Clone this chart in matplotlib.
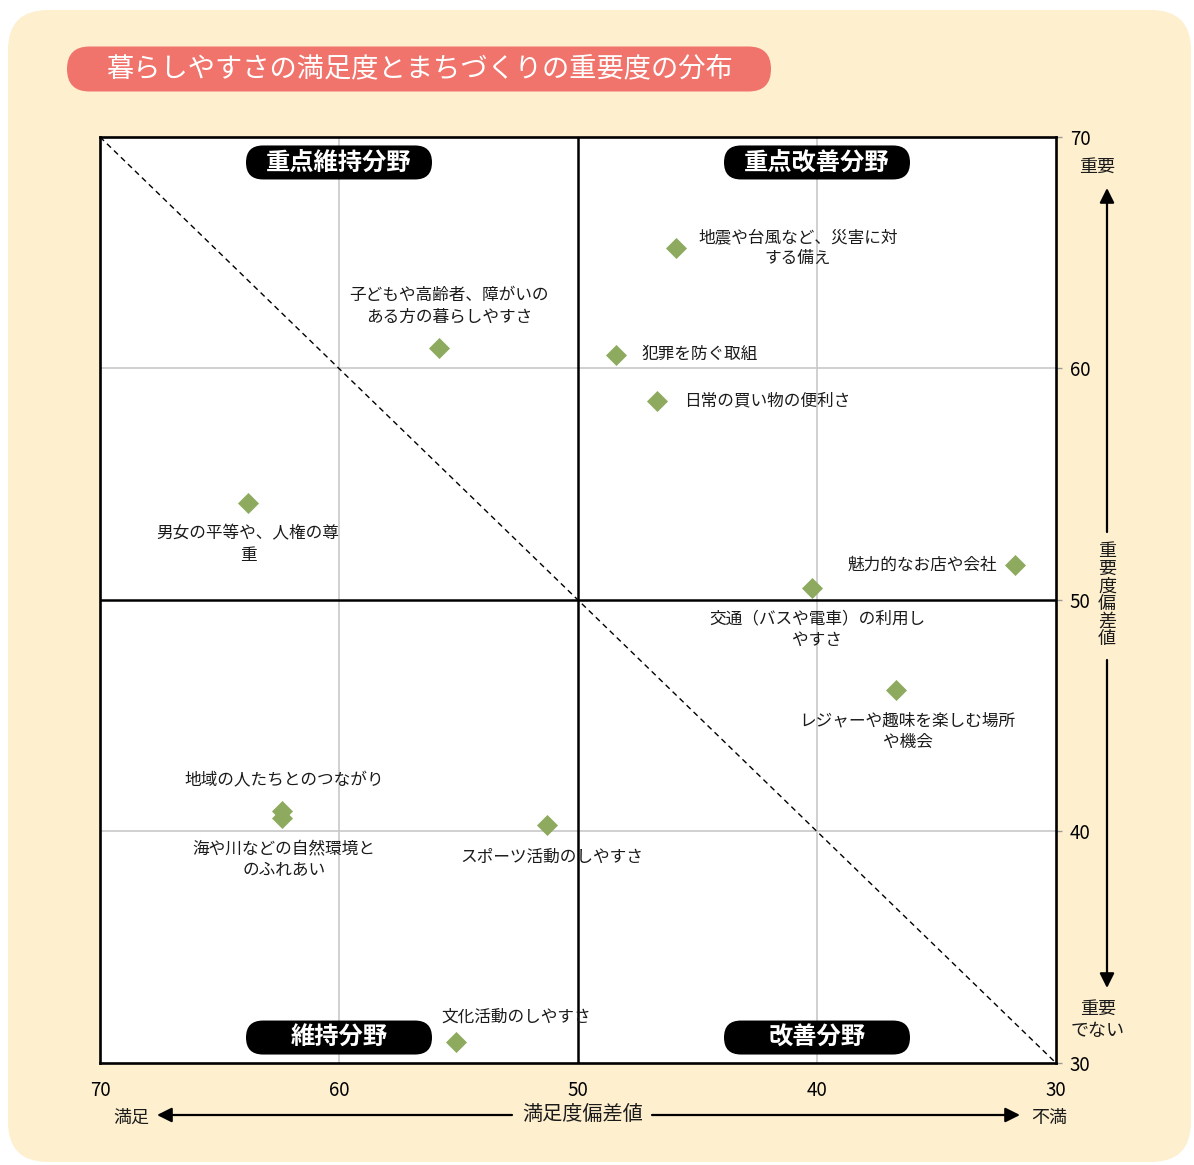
import matplotlib
matplotlib.use("Agg")
import matplotlib.pyplot as plt
from matplotlib.patches import FancyBboxPatch
from matplotlib.transforms import IdentityTransform

plt.rcParams['font.family'] = ['Noto Sans CJK JP', 'DejaVu Sans']

# data: satisfaction (x) and importance (y) deviation scores
labels = [
    "地震や台風など、災害に対\nする備え",
    "子どもや高齢者、障がいの\nある方の暮らしやすさ",
    "犯罪を防ぐ取組",
    "日常の買い物の便利さ",
    "男女の平等や、人権の尊\n重",
    "魅力的なお店や会社",
    "交通（バスや電車）の利用し\nやすさ",
    "レジャーや趣味を楽しむ場所\nや機会",
    "地域の人たちとのつながり",
    "海や川などの自然環境と\nのふれあい",
    "スポーツ活動のしやすさ",
    "文化活動のしやすさ",
]
satisfaction = [45.9, 55.8, 48.4, 46.7, 63.8, 31.7, 40.2, 36.7, 62.4, 62.4, 51.3, 55.1]
importance = [65.2, 60.9, 60.6, 58.6, 54.2, 51.5, 50.5, 46.1, 40.9, 40.6, 40.3, 30.9]
# label anchor positions (centre of each text block)
label_x = [40.8, 55.4, 44.9, 42.1, 63.8, 35.6, 40.0, 36.2, 62.3, 62.3, 51.1, 52.6]
label_y = [65.2, 62.7, 60.6, 58.6, 52.4, 51.5, 48.7, 44.3, 42.2, 38.8, 38.9, 32.0]

quadrants = ["重点維持分野", "重点改善分野", "維持分野", "改善分野"]
quad_x = [60, 40, 60, 40]
quad_y = [68.9, 68.9, 31.1, 31.1]

ticks = [70, 60, 50, 40, 30]

BG = "#FEEFCF"
TITLE_RED = "#F0736C"
GREEN = "#8DAA5E"
GRID = "#C8C8C8"

W, H = 1194, 1165
fig = plt.figure(figsize=(W / 100, H / 100), dpi=100)
fig.patch.set_facecolor("white")
PX = IdentityTransform()

# rounded beige panel
bg = FancyBboxPatch((8, 3), 1183, 1152, boxstyle="round,pad=0,rounding_size=40",
                    transform=PX, facecolor=BG, edgecolor="none", zorder=-5)
fig.add_artist(bg)

ax = fig.add_axes([100 / W, 1 - 1063 / H, 956 / W, 926 / H])
ax.set_facecolor("white")
ax.set_xlim(70, 30)
ax.set_ylim(30, 70)

for v in (60, 40):
    ax.axvline(v, color=GRID, lw=1.2, zorder=1)
    ax.axhline(v, color=GRID, lw=1.2, zorder=1)
ax.axvline(50, color="black", lw=1.8, zorder=2)
ax.axhline(50, color="black", lw=1.8, zorder=2)
ax.plot([70, 30], [70, 30], color="black", lw=1, ls=(0, (4, 3)), zorder=2)

for s in ax.spines.values():
    s.set_linewidth(1.9)
    s.set_color("black")

ax.set_xticks(ticks)
ax.set_yticks(ticks)
ax.tick_params(axis="x", length=0, pad=12, labelsize=13.5)
ax.yaxis.tick_right()
ax.tick_params(axis="y", length=4, color="#999999", width=1, pad=6, labelsize=13.5)

ax.scatter(satisfaction, importance, marker="D", s=115, color=GREEN, zorder=4, linewidths=0)
for lab, lx, ly in zip(labels, label_x, label_y):
    ax.text(lx, ly, lab, ha="center", va="center", ma="center", fontsize=12,
            linespacing=1.35, color="#1a1a1a", zorder=5)


def pill(cx, cy, w, h, color, text, fs, weight):
    box = FancyBboxPatch((cx - w / 2, cy - h / 2), w, h,
                         boxstyle=f"round,pad=0,rounding_size={h / 2}",
                         transform=PX, facecolor=color, edgecolor="none", zorder=5)
    fig.add_artist(box)
    fig.text(cx, cy, text, transform=PX, ha="center", va="center",
             color="white", fontsize=fs, fontweight=weight, zorder=6)


def label_px(x, y, s, fs=13, **kw):
    fig.text(x, H - y, s, transform=PX, ha="center", va="center", fontsize=fs,
             color="#1a1a1a", **kw)


# title
pill(419, H - 69, 704, 45, TITLE_RED, "暮らしやすさの満足度とまちづくりの重要度の分布", 19.6, "normal")

# quadrant labels
for q, qx, qy in zip(quadrants, quad_x, quad_y):
    px, py = ax.transData.transform((qx, qy))
    pill(px, py, 186, 34, "black", q, 17.5, "bold")

arrow = dict(arrowstyle="-|>", color="black", lw=1.6, mutation_scale=22, shrinkA=0, shrinkB=0)

# right axis annotations
label_px(1097, 167, "重要")
label_px(1098, 1020, "重要\nでない", linespacing=1.25)
label_px(1107, 595, "\n".join("重要度偏差値"), fs=13, linespacing=0.97)
ax.annotate("", xy=(1107, H - 188), xytext=(1107, H - 532),
            xycoords="figure pixels", textcoords="figure pixels", arrowprops=arrow)
ax.annotate("", xy=(1107, H - 988), xytext=(1107, H - 660),
            xycoords="figure pixels", textcoords="figure pixels", arrowprops=arrow)

# bottom axis annotations
label_px(131, 1118, "満足")
label_px(1049, 1118, "不満")
label_px(583, 1115, "満足度偏差値", fs=14.5)
ax.annotate("", xy=(157, H - 1115), xytext=(512, H - 1115),
            xycoords="figure pixels", textcoords="figure pixels", arrowprops=arrow)
ax.annotate("", xy=(1020, H - 1115), xytext=(652, H - 1115),
            xycoords="figure pixels", textcoords="figure pixels", arrowprops=arrow)

fig.savefig("out.png", dpi=100, facecolor=fig.get_facecolor())
